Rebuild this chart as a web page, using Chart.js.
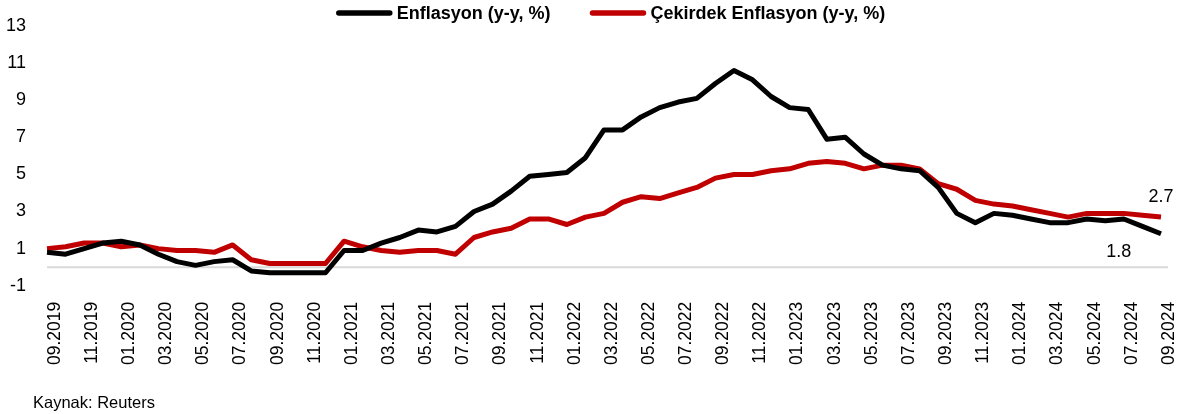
<!DOCTYPE html>
<html>
<head>
<meta charset="utf-8">
<script src="https://cdn.jsdelivr.net/npm/chart.js@4.4.1/dist/chart.umd.min.js"></script>
<style>
  html, body { margin: 0; padding: 0; background: #ffffff; }
  #wrap { width: 1182px; height: 414px; position: relative; }
</style>
</head>
<body>
<div id="wrap"><canvas id="c" width="1182" height="414"></canvas></div>
<script>
const months = [
  "09.2019","10.2019","11.2019","12.2019",
  "01.2020","02.2020","03.2020","04.2020","05.2020","06.2020","07.2020","08.2020","09.2020","10.2020","11.2020","12.2020",
  "01.2021","02.2021","03.2021","04.2021","05.2021","06.2021","07.2021","08.2021","09.2021","10.2021","11.2021","12.2021",
  "01.2022","02.2022","03.2022","04.2022","05.2022","06.2022","07.2022","08.2022","09.2022","10.2022","11.2022","12.2022",
  "01.2023","02.2023","03.2023","04.2023","05.2023","06.2023","07.2023","08.2023","09.2023","10.2023","11.2023","12.2023",
  "01.2024","02.2024","03.2024","04.2024","05.2024","06.2024","07.2024","08.2024","09.2024"
];
const headline = [
  0.8, 0.7, 1.0, 1.3,
  1.4, 1.2, 0.7, 0.3, 0.1, 0.3, 0.4, -0.2, -0.3, -0.3, -0.3, -0.3,
  0.9, 0.9, 1.3, 1.6, 2.0, 1.9, 2.2, 3.0, 3.4, 4.1, 4.9, 5.0,
  5.1, 5.9, 7.4, 7.4, 8.1, 8.6, 8.9, 9.1, 9.9, 10.6, 10.1, 9.2,
  8.6, 8.5, 6.9, 7.0, 6.1, 5.5, 5.3, 5.2, 4.3, 2.9, 2.4, 2.9,
  2.8, 2.6, 2.4, 2.4, 2.6, 2.5, 2.6, 2.2, 1.8
];
const core = [
  1.0, 1.1, 1.3, 1.3,
  1.1, 1.2, 1.0, 0.9, 0.9, 0.8, 1.2, 0.4, 0.2, 0.2, 0.2, 0.2,
  1.4, 1.1, 0.9, 0.8, 0.9, 0.9, 0.7, 1.6, 1.9, 2.1, 2.6, 2.6,
  2.3, 2.7, 2.9, 3.5, 3.8, 3.7, 4.0, 4.3, 4.8, 5.0, 5.0, 5.2,
  5.3, 5.6, 5.7, 5.6, 5.3, 5.5, 5.5, 5.3, 4.5, 4.2, 3.6, 3.4,
  3.3, 3.1, 2.9, 2.7, 2.9, 2.9, 2.9, 2.8, 2.7
];
const seriesNames = ["Enflasyon (y-y, %)", "Çekirdek Enflasyon (y-y, %)"];
const seriesColors = ["#000000", "#C00000"];
const yTicks = [-1, 1, 3, 5, 7, 9, 11, 13];
const sourceNote = "Kaynak: Reuters";

const FONT = "'Liberation Sans', Arial, sans-serif";

const zeroLine = {
  id: 'zeroLine',
  beforeDatasetsDraw(chart) {
    const { ctx, chartArea } = chart;
    const y = chart.scales.y.getPixelForValue(0);
    ctx.save();
    ctx.strokeStyle = '#d9d9d9';
    ctx.lineWidth = 2;
    ctx.beginPath();
    ctx.moveTo(chartArea.left, y);
    ctx.lineTo(chartArea.right + 7, y);
    ctx.stroke();
    ctx.restore();
  }
};

const customLegend = {
  id: 'customLegend',
  afterDraw(chart) {
    const ctx = chart.ctx;
    ctx.save();
    ctx.font = "bold 18px " + FONT;
    const lineLen = 55, gapText = 5, gapItems = 40;
    const widths = seriesNames.map(n => ctx.measureText(n).width);
    const total = widths.reduce((a, w) => a + lineLen + gapText + w, 0) + gapItems * (seriesNames.length - 1);
    let x = chart.width / 2 + 20 - total / 2;
    const yc = 13;
    ctx.textBaseline = 'middle';
    ctx.textAlign = 'left';
    seriesNames.forEach((n, i) => {
      ctx.strokeStyle = seriesColors[i];
      ctx.lineWidth = 5.5;
      ctx.lineCap = 'round';
      ctx.beginPath();
      ctx.moveTo(x + 2, yc);
      ctx.lineTo(x + lineLen - 2, yc);
      ctx.stroke();
      ctx.fillStyle = '#000000';
      ctx.fillText(n, x + lineLen + gapText, yc + 1);
      x += lineLen + gapText + widths[i] + gapItems;
    });
    ctx.restore();
  }
};

const endLabels = {
  id: 'endLabels',
  afterDatasetsDraw(chart) {
    const ctx = chart.ctx;
    const x = chart.scales.x;
    const y = chart.scales.y;
    const last = months.length - 1;
    ctx.save();
    ctx.font = "18px " + FONT;
    ctx.fillStyle = "#000000";
    ctx.textBaseline = "middle";
    ctx.textAlign = "center";
    const vCore = core[last];
    ctx.fillText(vCore.toFixed(1), x.getPixelForValue(last), y.getPixelForValue(vCore) - 20);
    const vHead = headline[last];
    ctx.fillText(vHead.toFixed(1), x.getPixelForValue(last - 2) - 5, y.getPixelForValue(vHead) + 18);
    ctx.restore();
  }
};

const sourcePlugin = {
  id: 'sourceNote',
  afterDraw(chart) {
    const ctx = chart.ctx;
    ctx.save();
    ctx.font = "16.5px " + FONT;
    ctx.fillStyle = "#000000";
    ctx.textBaseline = "middle";
    ctx.textAlign = "left";
    ctx.fillText(sourceNote, 33, 403);
    ctx.restore();
  }
};

new Chart(document.getElementById('c'), {
  type: 'line',
  data: {
    labels: months,
    datasets: [
      { label: seriesNames[0], data: headline, borderColor: seriesColors[0], backgroundColor: seriesColors[0], borderWidth: 5, pointRadius: 0, tension: 0, borderJoinStyle: 'round' },
      { label: seriesNames[1], data: core, borderColor: seriesColors[1], backgroundColor: seriesColors[1], borderWidth: 5, pointRadius: 0, tension: 0, borderJoinStyle: 'round' }
    ]
  },
  options: {
    responsive: false,
    animation: false,
    layout: { padding: { left: 0, right: 21, top: 26, bottom: 33 } },
    plugins: {
      legend: { display: false },
      tooltip: { enabled: false }
    },
    scales: {
      x: {
        offset: false,
        grid: { display: false, drawTicks: false },
        border: { display: false },
        afterFit(axis) { axis.paddingLeft = 0; axis.paddingRight = 0; },
        ticks: {
          autoSkip: false, maxRotation: 90, minRotation: 90, padding: 16, labelOffset: 8,
          font: { family: FONT, size: 17.5 }, color: '#000000',
          callback(v, i) { return i % 2 === 0 ? months[i] : ''; }
        }
      },
      y: {
        min: -1, max: 13,
        afterBuildTicks(axis) { axis.ticks = yTicks.map(v => ({ value: v })); },
        afterFit(axis) { axis.width = 47; axis.paddingTop = 0; axis.paddingBottom = 0; },
        grid: { display: false, drawTicks: false },
        border: { display: false },
        ticks: { padding: 21, font: { family: FONT, size: 18 }, color: '#000000' }
      }
    }
  },
  plugins: [zeroLine, endLabels, customLegend, sourcePlugin]
});
</script>
</body>
</html>
